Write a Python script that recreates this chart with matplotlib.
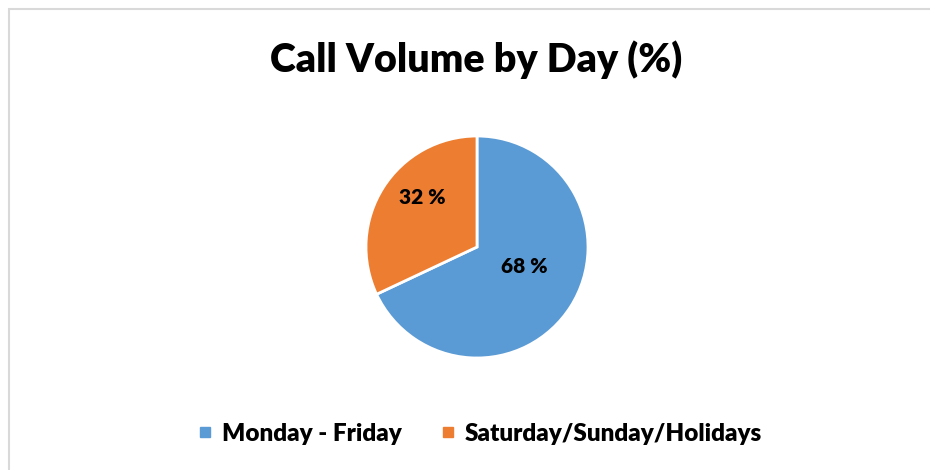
import matplotlib
matplotlib.use("Agg")
import matplotlib.pyplot as plt
from matplotlib.patches import Rectangle
from matplotlib.lines import Line2D

categories = ["Monday - Friday", "Saturday/Sunday/Holidays"]
values = [68, 32]
colors = ["#5B9BD5", "#ED7D31"]
title = "Call Volume by Day (%)"

plt.rcParams["font.family"] = ["Lato", "DejaVu Sans"]

W, H = 930, 470
fig = plt.figure(figsize=(W / 100, H / 100), dpi=100)

# chart frame (top and left edges visible)
fig.add_artist(Rectangle((9 / W, -0.1), 1.2, 1.1 - 9 / H, transform=fig.transFigure,
                         fill=False, edgecolor="#D9D9D9", linewidth=1.5))

fig.text(476 / W, 1 - 60 / H, title, ha="center", va="center",
         fontsize=28.4, fontweight="heavy", color="black")

R = 111
cx, cy = 477, 247
ax = fig.add_axes([(cx - R) / W, (H - cy - R) / H, 2 * R / W, 2 * R / H])
wedges, _, autotexts = ax.pie(values, colors=colors, startangle=90, counterclock=False,
                              radius=1, autopct=lambda p: f"{p:.0f} %",
                              wedgeprops=dict(edgecolor="white", linewidth=2))
ax.set_xlim(-1, 1)
ax.set_ylim(-1, 1)
ax.set_aspect("equal")
ax.axis("off")

label_pos = [(0.43, -0.18), (-0.49, 0.45)]
for t, pos in zip(autotexts, label_pos):
    t.set_position(pos)
    t.set_fontsize(15)
    t.set_fontweight("heavy")
    t.set_color("black")

handles = [Line2D([], [], marker="s", linestyle="none", markersize=7,
                  markerfacecolor=c, markeredgecolor=c) for c in colors]
fig.legend(handles, categories, loc="center", bbox_to_anchor=(480 / W, 1 - 434 / H),
           ncol=2, frameon=False, prop=dict(size=17.5, weight="heavy"),
           handletextpad=0.4, columnspacing=1.6, handlelength=0.6)

fig.savefig("out.png", dpi=100, facecolor="white")
